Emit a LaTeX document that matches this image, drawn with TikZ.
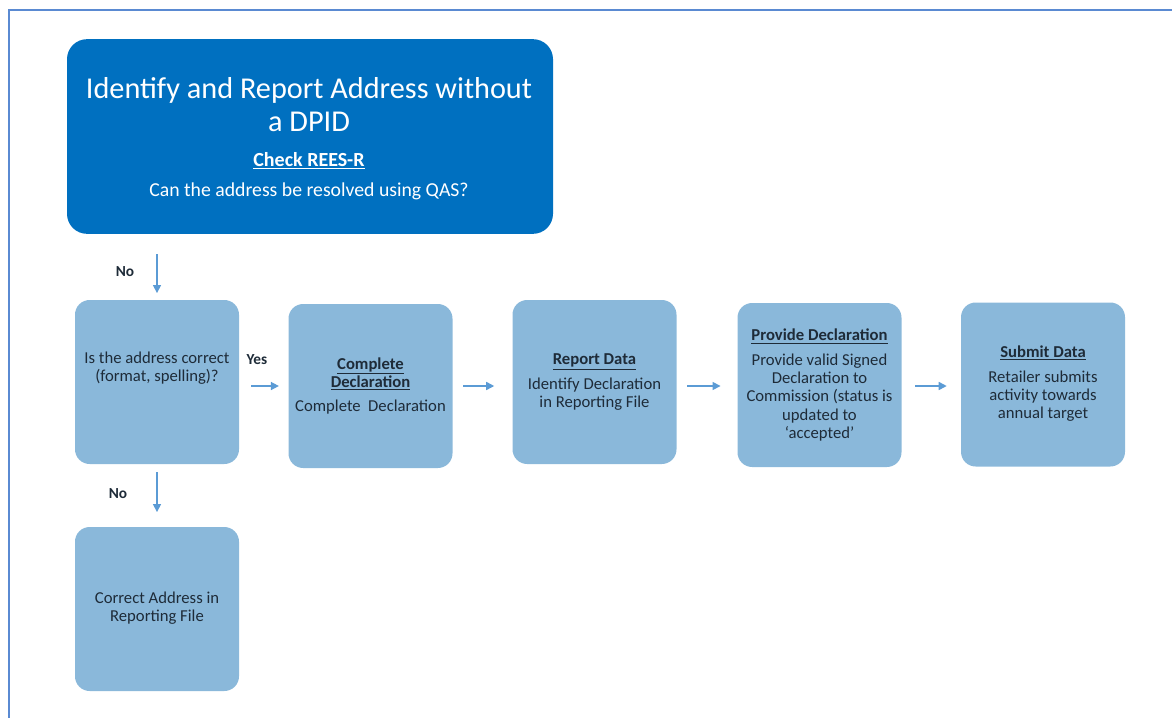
\documentclass[tikz,border=0pt]{standalone}
\usepackage{fontspec}
\setmainfont{Carlito}
\usetikzlibrary{arrows.meta}
\definecolor{darkbox}{HTML}{0070C0}
\definecolor{lightbox}{HTML}{8AB8DA}
\definecolor{boxtext}{HTML}{1E2B38}
\definecolor{arrowc}{HTML}{5B9BD5}
\definecolor{framec}{HTML}{5A8AD2}
\tikzset{
  lbox/.style={fill=lightbox, rounded corners=11pt, minimum width=123pt, minimum height=123pt, inner sep=0pt},
  dbox/.style={fill=darkbox, rounded corners=15pt, minimum width=364.5pt, minimum height=146pt, inner sep=0pt},
  btext/.style={text=boxtext, align=center, inner sep=0pt, font=\fontsize{12.5}{13.6}\selectfont},
  lbl/.style={text=boxtext, inner sep=0pt, font=\fontsize{11.5}{13}\selectfont\bfseries},
  arr/.style={draw=arrowc, line width=1.1pt, -{Triangle[length=6pt,width=6pt]}},
}
\newcommand{\hd}[1]{\textbf{\underline{#1}}}
\begin{document}
\begin{tikzpicture}[x=0.75pt,y=-0.75pt]
\useasboundingbox (0,0) rectangle (1172,718);
\draw[framec, line width=1.5pt] (9,718) -- (9,10) -- (1172,10);

% top box
\node[dbox] (top) at (310,136.5) {};
\node[text=white, align=center, inner sep=0pt, font=\fontsize{22.7}{24.75}\selectfont] (ttitle) at (309,104.5) {Identify and Report Address without\\a DPID};
\node[text=white, inner sep=0pt, font=\fontsize{15}{17}\selectfont\bfseries] (tcheck) at (309,161) {\underline{Check REES-R}};
\node[text=white, inner sep=0pt, font=\fontsize{14.8}{17}\selectfont] (tq) at (309,191) {Can the address be resolved using QAS?};

% boxes
\node[lbox] (b1) at (157,382) {};
\node[lbox] (b2) at (370.5,386) {};
\node[lbox] (b3) at (594.5,382) {};
\node[lbox] (b4) at (819.5,385) {};
\node[lbox] (b5) at (1043,384.5) {};
\node[lbox] (b6) at (157,609) {};

\node[btext] (t1) at (157,368.5) {Is the address correct\\(format, spelling)?};
\node[btext] (t2) at (370.5,386) {\hd{Complete}\\\hd{Declaration}\\[5pt]Complete\ \ Declaration};
\node[btext] (t3) at (594.5,382) {\hd{Report Data}\\[5pt]Identify Declaration\\in Reporting File};
\node[btext] (t4) at (819.5,385) {\hd{Provide Declaration}\\[5pt]Provide valid Signed\\Declaration to\\Commission (status is\\updated to\\`accepted'};
\node[btext] (t5) at (1043,383.5) {\hd{Submit Data}\\[5pt]Retailer submits\\activity towards\\annual target};
\node[btext] (t6) at (157,608) {Correct Address in\\Reporting File};

% labels
\node[lbl] (no1) at (125,272) {No};
\node[lbl] (yes) at (257,360) {Yes};
\node[lbl] (no2) at (118,494) {No};

% connectors
\draw[arr, shorten <=15pt, shorten >=5pt] (top.south -| b1.north) -- (b1.north);
\draw[arr, shorten <=9pt, shorten >=7pt] (b1.east |- b2.west) -- (b2.west);
\draw[arr, shorten <=8pt, shorten >=13.5pt] (b2.east) -- (b3.west |- b2.east);
\draw[arr, shorten <=8pt, shorten >=12.5pt] (b3.east |- b2.east) -- (b4.west |- b2.east);
\draw[arr, shorten <=10pt, shorten >=10.5pt] (b4.east |- b2.east) -- (b5.west |- b2.east);
\draw[arr, shorten <=6pt, shorten >=11pt] (b1.south) -- (b6.north);
\end{tikzpicture}
\end{document}
